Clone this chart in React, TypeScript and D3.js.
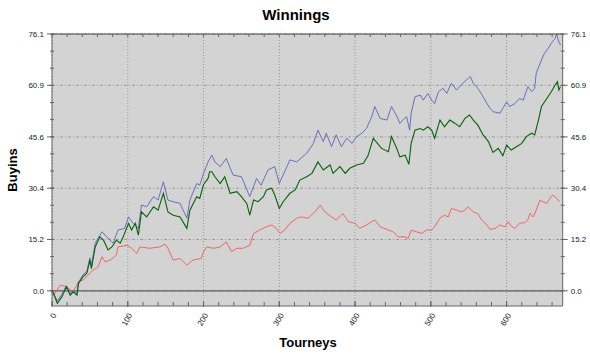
import React from "react";
import * as d3 from "d3";

const W = 590;
const H = 355;

const yTicks = [0.0, 15.2, 30.4, 45.6, 60.9, 76.1];
const xTicks = [0, 100, 200, 300, 400, 500, 600];

const blueT = [0, 2, 7, 13, 19, 24, 28, 33, 35, 41, 46, 50, 52, 57, 66, 72, 79, 81, 87, 96, 101, 107, 114, 118, 125, 134, 140, 147, 153, 160, 169, 178, 182, 191, 195, 200, 206, 211, 215, 222, 230, 239, 250, 261, 270, 276, 285, 294, 300, 314, 323, 336, 345, 351, 358, 362, 369, 375, 382, 389, 396, 402, 409, 415, 422, 426, 433, 442, 448, 455, 459, 463, 468, 472, 474, 479, 486, 490, 496, 501, 505, 510, 516, 521, 527, 534, 540, 547, 552, 556, 562, 569, 574, 578, 582, 591, 595, 600, 604, 611, 617, 622, 628, 633, 637, 639, 646, 650, 655, 659, 664, 666, 668, 671];
const blueV = [0, -0.8, -3.0, -1.0, 1.5, -0.8, 0.2, -0.8, 2.5, 4.8, 5.8, 9.8, 7.5, 14.1, 17.5, 16.0, 14.5, 14.1, 18.0, 18.5, 21.9, 20.0, 18.5, 25.4, 24.9, 27.9, 26.9, 32.3, 26.9, 26.4, 25.9, 21.5, 26.9, 31.8, 31.3, 34.8, 38.2, 40.2, 38.2, 36.8, 39.2, 34.3, 33.8, 27.9, 33.3, 31.3, 35.8, 36.8, 31.8, 38.8, 38.2, 40.7, 43.7, 47.6, 44.2, 46.7, 42.7, 46.2, 42.7, 45.2, 43.7, 45.7, 46.7, 48.1, 51.6, 54.6, 51.1, 50.6, 54.6, 51.8, 49.6, 50.6, 51.6, 47.6, 52.6, 57.5, 58.0, 56.5, 58.5, 56.5, 55.5, 59.0, 60.0, 58.5, 61.5, 59.5, 61.0, 62.5, 63.5, 61.5, 60.0, 57.5, 55.5, 54.1, 53.1, 52.6, 54.1, 56.0, 54.6, 55.5, 57.0, 56.5, 60.5, 59.0, 60.0, 64.5, 68.4, 70.4, 71.9, 73.4, 74.8, 76.1, 74.3, 72.8];

const greenT = [0, 2, 7, 13, 19, 24, 28, 33, 35, 41, 46, 50, 52, 57, 63, 68, 74, 79, 85, 90, 94, 101, 105, 110, 114, 118, 125, 134, 140, 147, 153, 160, 169, 178, 182, 191, 195, 200, 206, 208, 211, 215, 222, 228, 235, 244, 250, 257, 261, 266, 272, 279, 283, 290, 294, 300, 305, 314, 321, 327, 336, 343, 351, 358, 367, 371, 380, 387, 393, 402, 411, 417, 424, 435, 444, 448, 455, 459, 466, 471, 474, 479, 486, 490, 496, 501, 505, 512, 518, 525, 532, 538, 545, 551, 556, 562, 569, 576, 582, 589, 595, 600, 606, 613, 620, 626, 633, 637, 642, 646, 653, 659, 664, 667, 669, 671];
const greenV = [0, -0.8, -3.7, -1.8, 1.2, -1.3, -0.3, -1.3, 2.2, 4.2, 5.2, 9.1, 6.6, 13.0, 16.0, 15.0, 12.1, 13.0, 15.0, 14.1, 16.0, 20.0, 18.0, 20.0, 16.5, 23.4, 21.9, 24.9, 23.9, 28.9, 23.4, 22.4, 21.9, 18.5, 23.9, 27.9, 27.4, 31.5, 33.3, 35.3, 35.3, 33.8, 31.8, 33.8, 28.9, 29.4, 27.9, 25.9, 22.4, 26.9, 26.4, 27.9, 29.9, 30.4, 28.4, 24.4, 26.4, 28.9, 29.9, 32.8, 33.8, 34.8, 38.2, 35.8, 37.3, 34.8, 36.8, 34.8, 36.3, 37.3, 37.8, 40.0, 45.2, 42.2, 41.2, 45.7, 42.2, 39.7, 40.2, 37.5, 43.7, 47.6, 48.1, 47.6, 48.6, 47.6, 45.2, 50.6, 48.6, 50.6, 49.6, 48.6, 51.1, 52.1, 50.6, 49.1, 46.2, 44.2, 41.0, 42.2, 40.0, 43.2, 41.7, 42.7, 43.7, 45.7, 46.7, 46.2, 50.6, 54.6, 57.0, 59.0, 61.0, 62.0, 59.5, 60.5];

const redT = [0, 2, 11, 19, 28, 35, 41, 48, 54, 61, 66, 70, 77, 85, 87, 99, 105, 112, 116, 129, 142, 149, 153, 160, 169, 178, 186, 197, 199, 204, 213, 222, 230, 237, 244, 252, 261, 266, 274, 283, 290, 296, 301, 307, 314, 323, 329, 338, 347, 354, 360, 369, 375, 384, 391, 400, 406, 415, 426, 433, 444, 450, 457, 466, 470, 474, 481, 488, 494, 501, 505, 512, 518, 523, 527, 534, 540, 545, 549, 556, 562, 567, 574, 578, 585, 591, 598, 602, 607, 611, 617, 624, 628, 631, 635, 639, 644, 648, 653, 657, 661, 666, 670];
const redV = [0, -1.3, 1.7, 1.2, -0.3, 2.7, 3.2, 4.7, 6.1, 7.1, 10.1, 8.6, 9.1, 10.6, 13.0, 13.5, 12.6, 11.1, 13.0, 12.6, 13.0, 13.8, 12.6, 9.1, 9.6, 7.6, 9.1, 9.6, 11.1, 13.0, 12.6, 13.0, 14.5, 11.6, 12.6, 12.6, 13.5, 17.0, 18.0, 19.0, 19.5, 18.5, 17.0, 18.0, 20.0, 21.5, 21.9, 21.5, 23.4, 25.4, 23.4, 21.9, 21.0, 22.9, 20.5, 20.0, 18.5, 19.5, 21.0, 19.0, 18.0, 17.5, 16.0, 16.0, 15.5, 18.0, 17.5, 17.0, 18.0, 18.0, 19.0, 21.5, 22.4, 21.9, 24.4, 23.9, 23.4, 23.9, 24.9, 23.4, 22.9, 21.0, 19.5, 18.2, 18.5, 19.5, 19.0, 20.5, 19.0, 18.5, 20.0, 20.2, 21.0, 23.0, 21.9, 23.9, 26.9, 26.4, 25.9, 27.4, 28.4, 27.4, 26.4];

const L = 52, R = 562.7, T = 34, B = 306;

export default function App() {
  const x = d3.scaleLinear().domain([0, 674]).range([L, R]);
  const y = d3.scaleLinear().domain([-4.5, 76.1]).range([B, T]);

  const mk = (ts: number[], vs: number[]) =>
    d3.line<number>().x((_, i) => x(ts[i])).y((v) => y(v))(vs) || "";

  const xMinor = d3.range(0, 674, 20);
  const step = 15.22 / 3;
  const yMinor: number[] = [];
  for (let v = 0; v <= 76.2; v += step) yMinor.push(v);

  const font = "Liberation Sans, Arial, sans-serif";
  const axisCol = "#666";

  return (
    <div style={{ position: "fixed", left: 0, top: 0 }}>
      <svg width={W} height={H} style={{ display: "block", background: "#fff" }} fontFamily={font}>
        <rect x={L} y={T} width={R - L} height={B - T} fill="#d3d3d3" />
        {yTicks.map((t) => (
          <line key={"gy" + t} x1={L} x2={R} y1={y(t)} y2={y(t)} stroke="#8a8a8a" strokeWidth={0.8} strokeDasharray="3,2,1,2" />
        ))}
        {xTicks.map((t) => (
          <line key={"gx" + t} x1={x(t)} x2={x(t)} y1={T} y2={B} stroke="#8a8a8a" strokeWidth={0.8} strokeDasharray="1,2" />
        ))}
        <line x1={L} x2={R} y1={y(0)} y2={y(0)} stroke="#606060" strokeWidth={1.2} />
        <path d={mk(redT, redV)} fill="none" stroke="#f05a5a" strokeWidth={0.9} />
        <path d={mk(blueT, blueV)} fill="none" stroke="#6262b4" strokeWidth={0.9} />
        <path d={mk(greenT, greenV)} fill="none" stroke="#0a600a" strokeWidth={1.1} />
        <line x1={L} x2={R} y1={T} y2={T} stroke="#444" strokeWidth={1.2} />
        <line x1={L} x2={R} y1={B} y2={B} stroke={axisCol} strokeWidth={1} />
        <line x1={L} x2={L} y1={T} y2={B} stroke={axisCol} strokeWidth={1} />
        <line x1={R} x2={R} y1={T} y2={B} stroke={axisCol} strokeWidth={1} />
        {xMinor.map((t) => (
          <g key={"xm" + t}>
            <line x1={x(t)} x2={x(t)} y1={B} y2={B - 4} stroke={axisCol} />
            <line x1={x(t)} x2={x(t)} y1={T} y2={T + 3} stroke={axisCol} />
          </g>
        ))}
        {xTicks.map((t) => (
          <g key={"xl" + t}>
            <line x1={x(t)} x2={x(t)} y1={B + 1} y2={B - 5} stroke={axisCol} />
            <text
              transform={`translate(${x(t) + 3},${B + 8}) rotate(-60)`}
              textAnchor="end"
              dominantBaseline="middle"
              fontSize={8}
              fill="#222"
            >
              {t}
            </text>
          </g>
        ))}
        {yMinor.map((v, i) => (
          <g key={"ym" + i}>
            <line x1={L - 2} x2={L + 2} y1={y(v)} y2={y(v)} stroke={axisCol} />
            <line x1={R - 2} x2={R + 2} y1={y(v)} y2={y(v)} stroke={axisCol} />
          </g>
        ))}
        {yTicks.map((t) => (
          <g key={"yl" + t}>
            <line x1={L - 5} x2={L + 2} y1={y(t)} y2={y(t)} stroke={axisCol} />
            <line x1={R - 2} x2={R + 5} y1={y(t)} y2={y(t)} stroke={axisCol} />
            <text x={L - 8} y={y(t)} dy="0.35em" textAnchor="end" fontSize={8} fill="#222">
              {t.toFixed(1)}
            </text>
            <text x={R + 8} y={y(t)} dy="0.35em" textAnchor="start" fontSize={8} fill="#222">
              {t.toFixed(1)}
            </text>
          </g>
        ))}
        <text x={296} y={20} textAnchor="middle" fontSize={15} fontWeight="bold" fill="#000">
          Winnings
        </text>
        <text transform={`translate(17,${(T + B) / 2}) rotate(-90)`} textAnchor="middle" fontSize={13} fontWeight="bold" fill="#000">
          Buyins
        </text>
        <text x={308} y={347} textAnchor="middle" fontSize={13} fontWeight="bold" fill="#000">
          Tourneys
        </text>
      </svg>
    </div>
  );
}
